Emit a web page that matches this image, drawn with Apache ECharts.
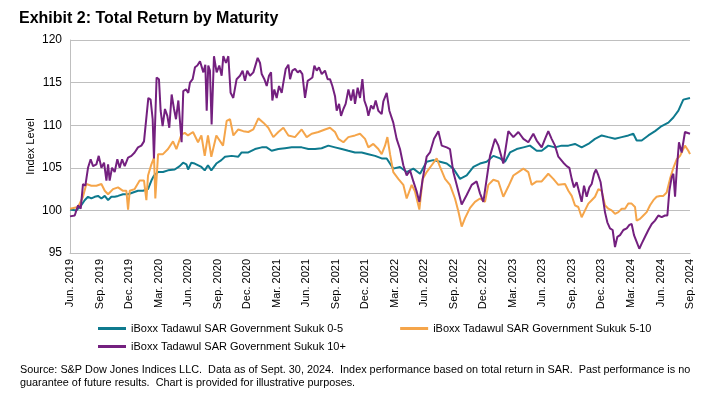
<!DOCTYPE html>
<html>
<head>
<meta charset="utf-8">
<script src="https://cdn.jsdelivr.net/npm/echarts@6/dist/echarts.min.js"></script>
<style>
  html, body { margin: 0; padding: 0; background: #fff; }
  #chart { width: 714px; height: 396px; }
</style>
</head>
<body>
<div id="chart"></div>
<script>
// x = months since Jun. 2019, y = index level
var quarterLabels = [
  'Jun. 2019', 'Sep. 2019', 'Dec. 2019', 'Mar. 2020', 'Jun. 2020', 'Sep. 2020',
  'Dec. 2020', 'Mar. 2021', 'Jun. 2021', 'Sep. 2021', 'Dec. 2021', 'Mar. 2022',
  'Jun. 2022', 'Sep. 2022', 'Dec. 2022', 'Mar. 2023', 'Jun. 2023', 'Sep. 2023',
  'Dec. 2023', 'Mar. 2024', 'Jun. 2024', 'Sep. 2024'
];

var seriesNames = [
  'iBoxx Tadawul SAR Government Sukuk 0-5',
  'iBoxx Tadawul SAR Government Sukuk 5-10',
  'iBoxx Tadawul SAR Government Sukuk 10+'
];

var sukuk0to5 = [
  [0, 100.1], [0.65, 100.0], [1.15, 100.6], [1.49, 101.2], [1.83, 101.6], [2.17, 101.4],
  [2.51, 101.6], [2.85, 101.7], [3.19, 101.4], [3.53, 101.7], [3.87, 101.2], [4.2, 101.6],
  [4.54, 101.6], [4.88, 101.7], [5.39, 101.9], [5.9, 101.9], [6.4, 102.1], [6.91, 102.3],
  [7.42, 102.3], [7.93, 102.5], [8.27, 103.5], [8.54, 104.1], [8.95, 104.5], [9.45, 104.5],
  [9.96, 104.7], [10.64, 104.8], [11.15, 105.2], [11.49, 105.6], [11.83, 105.4], [12.0, 104.8],
  [12.33, 105.6], [12.67, 105.5], [13.35, 105.1], [13.69, 104.7],
  [14.02, 105.3], [14.36, 104.7], [14.87, 105.5], [15.38, 105.9], [15.75, 106.3], [16.43, 106.4],
  [17.1, 106.3], [17.44, 106.8], [18.12, 106.8], [18.8, 107.2], [19.48, 107.4], [19.98, 107.4],
  [20.49, 107.0], [21.17, 107.2], [21.85, 107.3], [22.53, 107.4], [23.54, 107.4], [24.22, 107.2],
  [24.9, 107.2], [25.57, 107.3], [26.25, 107.6], [26.93, 107.4], [27.61, 107.2], [28.28, 107.0],
  [28.96, 106.8], [29.64, 106.8], [30.32, 106.6], [31.0, 106.4], [31.67, 106.1], [32.18, 106.1],
  [32.85, 104.9], [33.53, 105.1], [34.21, 104.5], [34.89, 104.9], [35.57, 104.3], [36.24, 105.7],
  [36.92, 105.9], [37.6, 105.7], [38.28, 105.5], [38.95, 104.9], [39.63, 103.7], [40.31, 104.1],
  [40.99, 105.1], [41.66, 105.5], [42.34, 105.7], [43.02, 106.4], [43.7, 106.1], [44.2, 105.7],
  [44.71, 106.8], [45.39, 107.2], [46.07, 107.4], [46.74, 107.6], [47.42, 107.0], [47.93, 107.0],
  [48.6, 107.6], [49.28, 107.4], [49.96, 107.6], [50.64, 107.6], [51.31, 107.8], [51.99, 107.4],
  [52.67, 107.8], [53.35, 108.4], [54.03, 108.8], [54.7, 108.6], [55.38, 108.4], [56.06, 108.6],
  [56.74, 108.8], [57.24, 109.0], [57.58, 108.2], [58.09, 108.2], [58.77, 108.8], [59.45, 109.3],
  [60.12, 109.9], [60.8, 110.3], [61.31, 110.9], [61.82, 111.7], [62.32, 113.0], [63.0, 113.2]
];

var sukuk5to10 = [
  [0, 100.2], [0.82, 100.4], [1.32, 101.6], [1.66, 103.1], [2.17, 102.9], [2.68, 102.9],
  [3.19, 103.1], [3.53, 102.3], [3.87, 101.9], [4.37, 102.5], [4.88, 102.7], [5.39, 102.3],
  [5.73, 102.3], [5.9, 100.1], [6.07, 102.3], [6.57, 102.5], [7.08, 103.5], [7.52, 103.5],
  [7.76, 101.2], [7.93, 104.1], [8.27, 105.4], [8.54, 106.2], [8.67, 101.4], [8.95, 106.6],
  [9.45, 106.6], [9.96, 107.2], [10.47, 108.1], [10.81, 107.2], [11.32, 108.9], [11.66, 109.1],
  [11.99, 108.8], [12.5, 109.2], [13.01, 108.0],
  [13.35, 108.8], [13.69, 106.4], [14.02, 108.8], [14.36, 106.3], [14.87, 108.8], [15.55, 107.6],
  [15.92, 110.5], [16.26, 110.7], [16.6, 108.8], [17.1, 109.5], [17.61, 109.3], [18.12, 109.2],
  [18.63, 109.5], [19.14, 110.8], [19.65, 110.3], [20.15, 109.7], [20.66, 108.6], [21.17, 109.2],
  [21.68, 109.7], [22.19, 108.8], [22.86, 108.6], [23.54, 109.5], [24.05, 108.6], [24.56, 109.0],
  [25.24, 109.2], [25.91, 109.5], [26.42, 109.7], [26.93, 109.2], [27.27, 108.4], [27.78, 108.0],
  [28.28, 108.6], [28.96, 108.8], [29.47, 109.0], [29.98, 108.4], [30.32, 107.4], [30.82, 107.8],
  [31.33, 107.2], [31.67, 106.6], [32.01, 107.6], [32.25, 108.6], [32.52, 106.6], [32.85, 104.5],
  [33.36, 103.7], [33.87, 103.0], [34.21, 101.4], [34.72, 103.0], [35.06, 102.2], [35.5, 100.1],
  [35.84, 103.7], [36.24, 104.5], [36.75, 105.3], [37.26, 106.1], [37.6, 105.1], [38.11, 103.7],
  [38.61, 103.0], [39.12, 101.4], [39.46, 99.9], [39.8, 98.1], [40.14, 99.1], [40.65, 100.3],
  [41.15, 101.0], [41.66, 101.4], [42.17, 101.0], [42.51, 103.0], [43.02, 103.6], [43.53, 103.4],
  [44.03, 101.6], [44.54, 102.8], [45.05, 104.1], [45.56, 104.5], [46.07, 104.9], [46.57, 104.5],
  [46.91, 103.0], [47.42, 103.4], [47.93, 103.4], [48.6, 104.3], [49.11, 103.7], [49.62, 103.0],
  [49.79, 102.9], [50.3, 103.1], [50.64, 102.3], [50.98, 101.7], [51.31, 100.6], [51.65, 100.4],
  [51.99, 99.2], [52.33, 100.0], [52.67, 100.8], [53.01, 101.2], [53.35, 101.6], [53.69, 102.5],
  [54.02, 102.3], [54.36, 100.6], [54.7, 100.2], [55.04, 100.0], [55.38, 99.6], [55.72, 99.8],
  [56.06, 100.2], [56.4, 100.2], [56.73, 100.8], [57.07, 100.8], [57.41, 100.4], [57.58, 98.8],
  [57.92, 99.0], [58.26, 99.4], [58.6, 99.8], [58.94, 100.6], [59.28, 101.2], [59.61, 101.6],
  [59.95, 101.7], [60.29, 101.7], [60.63, 102.1], [60.97, 103.7], [61.31, 105.0], [61.65, 106.0],
  [61.99, 106.4], [62.49, 107.6], [62.83, 107.0], [63.0, 106.6]
];

var sukuk10plus = [
  [0, 99.3], [0.48, 99.4], [0.82, 100.6], [1.09, 100.2], [1.32, 103.1], [1.56, 102.9],
  [1.83, 105.0], [2.1, 106.0], [2.34, 105.2], [2.68, 105.4], [2.92, 106.4], [3.19, 105.0],
  [3.46, 105.6], [3.7, 103.5], [3.87, 105.4], [4.03, 103.5], [4.27, 105.0], [4.54, 104.5],
  [4.81, 106.0], [5.05, 105.0], [5.29, 106.0], [5.56, 105.2], [5.9, 106.2], [6.24, 106.4],
  [6.57, 106.8], [6.91, 107.4], [7.25, 107.6], [7.52, 108.1], [7.72, 108.0], [7.96, 113.2],
  [8.19, 113.0], [8.4, 110.7], [8.53, 106.1], [8.8, 115.6], [9.04, 115.4], [9.21, 111.7],
  [9.41, 109.9], [9.65, 111.9], [9.89, 111.1], [10.09, 109.7], [10.33, 113.6], [10.57, 111.9],
  [10.77, 110.7], [11.01, 112.9], [11.18, 112.7], [11.34, 108.0], [11.51, 114.0], [11.79, 114.2],
  [12.02, 113.8], [12.19, 115.0], [12.46, 115.4], [12.7, 116.8], [12.94, 117.0], [13.21, 117.5],
  [13.38, 117.7], [13.55, 116.2], [13.75, 117.1], [13.89, 111.7], [14.05, 117.0], [14.22, 116.4],
  [14.39, 110.1], [14.63, 118.1], [14.9, 116.2], [15.17, 117.0], [15.41, 115.8], [15.58, 118.1],
  [15.85, 117.3], [16.09, 118.1], [16.32, 113.8], [16.59, 113.2], [16.93, 115.4], [17.27, 115.8],
  [17.54, 116.4], [17.78, 115.2], [18.01, 116.4], [18.29, 115.8], [18.63, 116.2], [18.8, 116.4],
  [19.07, 117.9], [19.31, 117.3], [19.48, 116.0], [19.75, 115.4], [19.99, 114.6], [20.22, 115.8],
  [20.43, 116.2], [20.56, 112.9], [20.76, 114.2], [21.0, 113.2], [21.24, 114.6], [21.51, 113.8],
  [21.68, 115.0], [21.92, 116.6], [22.19, 117.1], [22.36, 115.4], [22.59, 116.4], [22.87, 116.6],
  [23.14, 116.2], [23.37, 116.4], [23.61, 116.0], [23.88, 113.2], [24.15, 115.2], [24.39, 115.4],
  [24.63, 115.6], [24.83, 117.0], [25.07, 116.4], [25.3, 116.8], [25.58, 116.0], [25.91, 116.4],
  [26.18, 115.4], [26.42, 115.4], [26.66, 114.6], [26.93, 113.4], [27.1, 111.7], [27.34, 112.5],
  [27.54, 111.1], [27.78, 111.9], [28.01, 112.5], [28.29, 114.2], [28.56, 112.9], [28.79, 114.2],
  [28.96, 112.5], [29.23, 114.4], [29.47, 113.2], [29.71, 115.4], [29.91, 112.9], [30.15, 112.1],
  [30.32, 111.1], [30.59, 112.3], [30.83, 111.9], [31.06, 112.9], [31.33, 111.7], [31.67, 111.3],
  [31.84, 112.8], [32.18, 113.8], [32.45, 111.7], [32.85, 110.3], [33.19, 108.4],
  [33.53, 107.2], [33.87, 105.3], [34.21, 104.1], [34.55, 104.7], [34.89, 103.4], [35.23, 102.2],
  [35.5, 101.0], [35.84, 103.7], [36.24, 106.3], [36.58, 106.8], [36.99, 108.4], [37.43, 109.3],
  [37.77, 107.6], [38.28, 107.4], [38.61, 107.2], [38.95, 104.5], [39.29, 103.0], [39.8, 100.7],
  [40.31, 101.8], [40.82, 103.0], [41.32, 103.4], [41.66, 102.0], [42.0, 101.0], [42.34, 103.7],
  [42.68, 106.4], [43.19, 108.4], [43.53, 107.6], [44.03, 105.5], [44.54, 109.3], [45.05, 108.6],
  [45.56, 109.2], [46.07, 108.4], [46.57, 108.0], [47.08, 109.0], [47.42, 108.2], [47.93, 107.4],
  [48.27, 108.4], [48.6, 109.3], [48.94, 108.4], [49.28, 107.6], [49.62, 106.3], [49.79, 106.4],
  [50.13, 105.6], [50.47, 105.2], [50.74, 105.0], [50.98, 103.7], [51.21, 102.7], [51.48, 103.3],
  [51.75, 102.1], [51.99, 101.0], [52.23, 102.9], [52.5, 101.6], [52.77, 102.7], [53.01, 103.1],
  [53.25, 104.3], [53.45, 104.8], [53.69, 104.1], [53.92, 103.3], [54.13, 101.6], [54.36, 99.8],
  [54.6, 98.6], [54.87, 97.9], [55.14, 97.7], [55.38, 95.7], [55.62, 96.9], [55.89, 97.1],
  [56.23, 97.7], [56.57, 97.9], [56.84, 98.3], [57.07, 98.4], [57.31, 97.1], [57.58, 96.3],
  [57.85, 95.5], [58.09, 96.1], [58.43, 96.9], [58.77, 97.7], [59.11, 98.4], [59.44, 98.8],
  [59.78, 99.4], [60.12, 99.2], [60.46, 99.4], [60.7, 99.4], [60.9, 102.3], [61.14, 103.9],
  [61.31, 104.3], [61.48, 101.6], [61.65, 104.7], [61.88, 108.0], [62.15, 106.8], [62.49, 109.2],
  [63.0, 109.0]
];

var seriesColors = ['#0e7a8e', '#f5a54a', '#74207f'];

var font = 'Liberation Sans, Arial, sans-serif';

var myChart = echarts.init(document.getElementById('chart'));

var option = {
  animation: false,
  color: seriesColors,
  title: [
    {
      text: 'Exhibit 2: Total Return by Maturity',
      left: 14,
      top: 6,
      textStyle: { fontFamily: font, fontSize: 16, fontWeight: 'bold', color: '#000' }
    },
    {
      text: 'Source: S&P Dow Jones Indices LLC.  Data as of Sept. 30, 2024.  Index performance based on total return in SAR.  Past performance is no\n' +
            'guarantee of future results.  Chart is provided for illustrative purposes.',
      left: 15,
      top: 358,
      textStyle: { fontFamily: font, fontSize: 10.85, fontWeight: 'normal', color: '#000', lineHeight: 13 }
    }
  ],
  legend: [
    {
      data: [seriesNames[0], seriesNames[1]],
      left: 93,
      top: 318,
      icon: 'rect',
      itemWidth: 28,
      itemHeight: 3,
      itemGap: 57,
      textStyle: { fontFamily: font, fontSize: 11, color: '#000' }
    },
    {
      data: [seriesNames[2]],
      left: 93,
      top: 336,
      icon: 'rect',
      itemWidth: 28,
      itemHeight: 3,
      textStyle: { fontFamily: font, fontSize: 11, color: '#000' }
    }
  ],
  grid: { left: 70, right: 24, top: 40, bottom: 143 },
  xAxis: {
    type: 'value',
    min: 0,
    max: 63,
    interval: 3,
    axisLine: { show: true, lineStyle: { color: '#bfbfbf' } },
    axisTick: { show: false },
    splitLine: { show: false },
    axisLabel: {
      rotate: 90,
      fontFamily: font,
      fontSize: 11,
      color: '#000',
      margin: 6,
      showMaxLabel: true,
      formatter: function (v) { return quarterLabels[Math.round(v / 3)]; }
    }
  },
  yAxis: {
    type: 'value',
    min: 95,
    max: 120,
    interval: 5,
    name: 'Index Level',
    nameLocation: 'middle',
    nameGap: 34,
    nameMoveOverlap: false,
    nameTextStyle: { fontFamily: font, fontSize: 11, color: '#000' },
    axisLine: { show: true, lineStyle: { color: '#bfbfbf' } },
    axisTick: { show: false },
    splitLine: { lineStyle: { color: '#bfbfbf', width: 1 } },
    axisLabel: { fontFamily: font, fontSize: 12, color: '#000', margin: 8 }
  },
  series: [
    { name: seriesNames[0], type: 'line', data: sukuk0to5, showSymbol: false, lineStyle: { width: 2 } },
    { name: seriesNames[1], type: 'line', data: sukuk5to10, showSymbol: false, lineStyle: { width: 2 } },
    { name: seriesNames[2], type: 'line', data: sukuk10plus, showSymbol: false, lineStyle: { width: 2 } }
  ]
};

myChart.setOption(option);
</script>
</body>
</html>
